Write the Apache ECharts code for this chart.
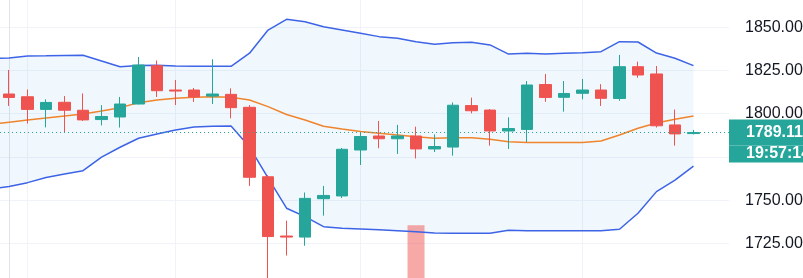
<!DOCTYPE html>
<html>
<head>
<meta charset="utf-8">
<script src="https://cdn.jsdelivr.net/npm/echarts@6/dist/echarts.min.js"></script>
<style>
html,body{margin:0;padding:0;background:#ffffff;}
#chart{width:803px;height:278px;}
</style>
</head>
<body>
<div id="chart"></div>
<script>
// ---- data ----
const candleX = [0,1,2,3,4,5,6,7,8,9,10,11,12,13,14,15,16,17,18,19,20,21,22,23,24,25,26,27,28,29,30,31,32,33,34,35,36,37];
const opens  = [1811.4,1809.8,1802.5,1806.6,1802.0,1796.6,1798.1,1805.6,1827.8,1813.7,1813.7,1810.2,1811.2,1803.7,1763.5,1729.2,1728.6,1750.8,1752.4,1779.0,1787.1,1785.5,1787.1,1779.6,1780.7,1804.7,1802.1,1790.0,1790.9,1816.9,1809.5,1811.8,1813.7,1808.8,1827.2,1823.0,1793.5,1788.5];
const closes = [1809.4,1802.5,1806.5,1802.0,1796.4,1798.4,1805.6,1828.2,1813.3,1813.1,1809.7,1811.4,1803.5,1763.2,1728.9,1728.6,1751.0,1752.7,1779.4,1786.8,1785.5,1787.1,1779.6,1781.0,1804.9,1801.7,1790.0,1791.4,1816.6,1809.4,1811.7,1813.7,1808.9,1827.2,1822.4,1793.0,1788.3,1789.11];
const lows   = [1804.5,1794.3,1792.1,1789.1,1795.8,1793.2,1792.0,1805.4,1809.7,1805.0,1806.8,1805.6,1797.3,1758.2,1701.0,1717.9,1723.6,1741.0,1751.2,1770.3,1780.0,1776.7,1774.1,1777.8,1775.7,1800.2,1781.5,1779.6,1783.6,1806.9,1801.2,1808.3,1804.5,1807.5,1820.8,1792.0,1781.5,1788.0];
const highs  = [1825.3,1814.0,1808.3,1810.2,1811.7,1804.9,1809.7,1832.8,1830.8,1819.5,1814.9,1831.5,1814.7,1805.0,1764.5,1738.1,1754.4,1758.2,1780.2,1789.4,1795.8,1793.5,1792.5,1788.0,1806.5,1809.3,1802.7,1797.9,1818.9,1823.0,1818.9,1820.1,1817.1,1834.0,1830.1,1827.6,1802.4,1790.6];

const bandX  = [-1,0,1,2,3,4,5,6,7,8,9,10,11,12,13,14,15,16,17,18,19,20,21,22,23,24,25,26,27,28,29,30,31,32,33,34,35,36,37];
const upper  = [1832.0,1832.2,1833.4,1833.5,1833.7,1833.8,1830.5,1827.2,1827.9,1828.0,1827.6,1827.4,1827.4,1827.4,1835.0,1848.4,1854.6,1853.2,1850.3,1848.4,1846.5,1844.6,1843.6,1841.7,1840.2,1841.1,1841.3,1839.8,1834.5,1835.0,1834.5,1835.0,1835.3,1835.9,1841.7,1841.5,1835.1,1832.1,1827.8];
const lower  = [1756.5,1757.9,1760.1,1763.1,1765.1,1767.0,1774.9,1780.6,1785.8,1788.3,1790.6,1792.3,1792.7,1792.9,1780.7,1762.8,1745.3,1740.4,1734.6,1733.7,1733.3,1732.9,1732.3,1731.7,1731.0,1730.8,1730.8,1730.8,1732.5,1732.3,1732.3,1732.3,1732.3,1732.3,1733.1,1742.4,1754.9,1761.6,1769.7];
const basis  = [1793.7,1795.1,1796.4,1797.5,1798.7,1799.8,1801.6,1803.5,1806.4,1807.9,1808.9,1809.5,1809.8,1809.5,1807.9,1804.1,1799.5,1796.4,1792.7,1791.1,1789.7,1788.7,1787.7,1786.7,1785.8,1786.1,1786.1,1785.2,1783.8,1783.4,1783.4,1783.4,1783.4,1784.2,1787.7,1791.6,1794.6,1796.8,1798.7];

const volX = [22];
const volume = [2025];

const sessionBreaks = [1, 9, 19, 31];
const priceMin = 1700, priceMax = 1875, priceStep = 25;
const lastPrice = 1789.11;
const lastPriceText = '1789.11';
const countdownText = '19:57:14';

// ---- build ----
const UP = '#26a69a', DOWN = '#ef5350';
const FONT = 'Liberation Sans, Arial, sans-serif';
const candles = candleX.map((x, i) => [x, opens[i], closes[i], lows[i], highs[i]]);
const lowerData = bandX.map((x, i) => [x, lower[i]]);
const upperData = bandX.map((x, i) => [x, upper[i]]);
const basisData = bandX.map((x, i) => [x, basis[i]]);
const volData = volX.map((x, i) => [x, volume[i]]);

function renderBand(params, api) {
  if (params.dataIndex !== 0) return null;
  const pts = [];
  for (let i = 0; i < bandX.length; i++) pts.push(api.coord([bandX[i], upper[i]]));
  for (let i = bandX.length - 1; i >= 0; i--) pts.push(api.coord([bandX[i], lower[i]]));
  return {type: 'polygon', shape: {points: pts}, style: {fill: 'rgba(33,150,243,0.065)'}, silent: true};
}

const chart = echarts.init(document.getElementById('chart'), null, {renderer: 'canvas'});
chart.setOption({
  animation: false,
  backgroundColor: '#ffffff',
  grid: {left: 0, right: 74, top: -15.9, bottom: -8.5, containLabel: false, outerBoundsMode: 'none'},
  xAxis: {
    type: 'value', min: -0.49, max: 38.92, show: false
  },
  yAxis: [{
    type: 'value', position: 'right', min: priceMin, max: priceMax, interval: priceStep,
    axisLine: {show: true, lineStyle: {color: '#e0e3eb', width: 1}},
    axisTick: {show: false},
    splitLine: {show: true, lineStyle: {color: '#f0f3fa', width: 1}},
    axisLabel: {
      color: '#131722', fontSize: 16, fontFamily: FONT,
      margin: 16, formatter: v => v.toFixed(2)
    }
  }, {
    type: 'value', show: false, min: 0, max: 10000, splitLine: {show: false}
  }],
  series: [
    {
      name: 'bandFill', type: 'custom', renderItem: renderBand, clip: true, z: 1, silent: true,
      data: [[bandX[0], lower[0]]], encode: {x: 0, y: 1},
      markLine: {
        z: 1, silent: true, symbol: ['none', 'none'], label: {show: false},
        lineStyle: {color: '#f0f3fa', width: 1, type: 'solid'},
        data: sessionBreaks.map(x => ({xAxis: x}))
      }
    },
    {
      name: 'vol', type: 'bar', yAxisIndex: 1, data: volData, barWidth: 17, z: 2,
      itemStyle: {color: 'rgba(239,83,80,0.5)'}
    },
    {
      name: 'upper', type: 'line', data: upperData, showSymbol: false, z: 3,
      lineStyle: {color: '#3d63e6', width: 1.5}
    },
    {
      name: 'lower', type: 'line', data: lowerData, showSymbol: false, z: 3,
      lineStyle: {color: '#3d63e6', width: 1.5}
    },
    {
      name: 'basis', type: 'line', data: basisData, showSymbol: false, z: 3,
      lineStyle: {color: '#f0842c', width: 1.5}
    },
    {
      name: 'price', type: 'candlestick', data: candles, barWidth: 12, z: 4,
      itemStyle: {color: UP, color0: DOWN, borderColor: UP, borderColor0: DOWN, borderWidth: 1},
      markLine: {
        z: 6, silent: true, symbol: ['none', 'none'],
        lineStyle: {color: UP, width: 1, type: [1, 3]},
        label: {
          show: true, position: 'end', distance: 0,
          formatter: () => '{e| }\n{a|' + lastPriceText + '}\n{b|' + countdownText + '}',
          rich: {
            e: {height: 17, lineHeight: 17, width: 100},
            a: {height: 26, lineHeight: 26, width: 100, padding: [0, 0, 0, 17], backgroundColor: UP,
                color: '#ffffff', fontSize: 16, fontWeight: 'bold', fontFamily: FONT},
            b: {height: 17, lineHeight: 17, width: 100, padding: [0, 0, 0, 17], backgroundColor: UP,
                color: '#ffffff', fontSize: 16, fontWeight: 'bold', fontFamily: FONT}
          }
        },
        data: [{yAxis: lastPrice}]
      }
    }
  ]
});
</script>
</body>
</html>
